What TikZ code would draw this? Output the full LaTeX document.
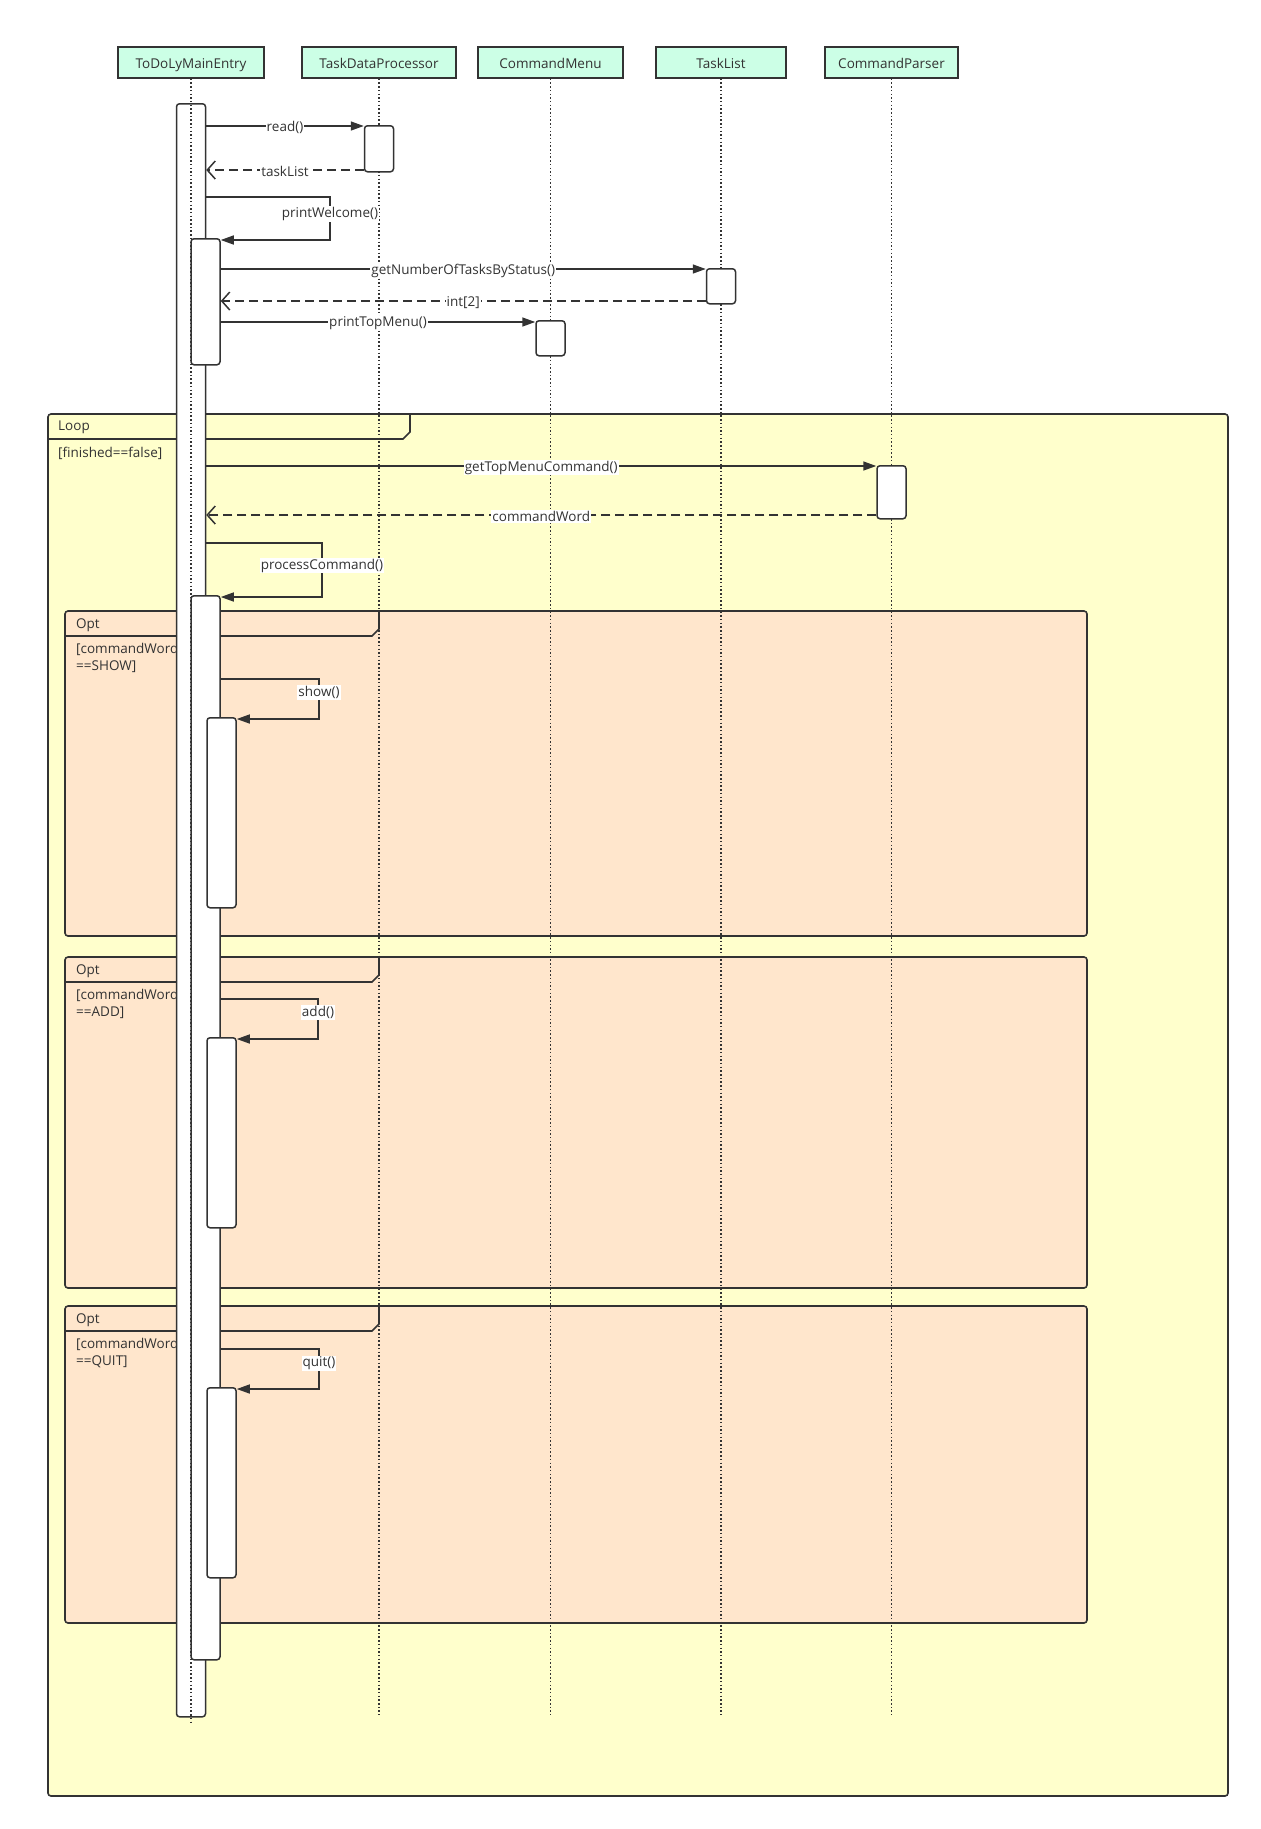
\documentclass[tikz,border=0pt]{standalone}
\usepackage{fontspec}
\setmainfont{Open Sans}
\usetikzlibrary{arrows.meta}
\definecolor{ink}{HTML}{333333}
\definecolor{headMint}{HTML}{CCFFE6}
\definecolor{loopFill}{HTML}{FFFFCC}
\definecolor{optFill}{HTML}{FFE6CC}
\tikzset{
  head box/.style={
    draw=ink,
    fill=headMint,
    line width=1.5pt,
    minimum height=31pt,
    inner sep=0pt,
    text height=12pt,
    text depth=0pt,
    font=\fontsize{13.5}{15}\selectfont,
    text=ink
  },
  life line/.style={
    draw=ink,
    line width=1.5pt,
    dash pattern=on 1.5pt off 2.2pt
  },
  act bar/.style={
    draw=ink,
    fill=white,
    line width=1.5pt,
    rounded corners=3pt,
    minimum width=29pt,
    inner sep=0pt,
    anchor=north
  },
  loop frame/.style={
    draw=ink,
    fill=loopFill,
    line width=1.6pt,
    rounded corners=3pt
  },
  opt frame/.style={
    draw=ink,
    fill=optFill,
    line width=1.6pt,
    rounded corners=3pt
  },
  tab edge/.style={
    draw=ink,
    line width=1.6pt
  },
  tab label/.style={
    anchor=west,
    yshift=-1.5pt,
    font=\fontsize{13.5}{15}\selectfont,
    text=ink,
    inner sep=0pt
  },
  guard label/.style={
    anchor=north west,
    yshift=-1.5pt,
    align=left,
    font=\fontsize{13.5}{17}\selectfont,
    text=ink,
    inner sep=0pt
  },
  call edge/.style={
    -{Triangle[length=13pt,width=9pt]},
    draw=ink,
    line width=1.5pt
  },
  reply edge/.style={
    -{Straight Barb[length=8pt,width=18pt]},
    draw=ink,
    line width=1.5pt,
    dash pattern=on 9pt off 5pt
  },
  msg label/.style={
    fill=white,
    inner sep=1pt,
    yshift=-1.5pt,
    font=\fontsize{13.5}{15}\selectfont,
    text=ink
  }
}

\begin{document}
\begin{tikzpicture}[x=1pt,y=-1pt]
  \path[use as bounding box,fill=white] (0,0) rectangle (1261,1829);

  \node[head box,minimum width=146pt] (entry) at (191,62.5) {ToDoLyMainEntry};
  \node[head box,minimum width=154pt] (proc) at (379,62.5) {TaskDataProcessor};
  \node[head box,minimum width=145pt] (menu) at (550.5,62.5) {CommandMenu};
  \node[head box,minimum width=130pt] (tlist) at (721,62.5) {TaskList};
  \node[head box,minimum width=133pt] (parser) at (891.5,62.5) {CommandParser};

  \draw[loop frame] (48,414) rectangle (1228,1796);
  \draw[tab edge] (48,439) -- (403,439) -- (410,432) -- (410,414);
  \node[tab label] (loopTag) at (58,426) {Loop};
  \node[tab label] (loopGuard) at (58,452) {[finished==false]};

  \foreach \top/\bot/\cond [count=\i] in {611/936/SHOW,957/1288/ADD,1306/1623/QUIT} {
    \draw[opt frame] (65,\top) rectangle (1087,\bot);
    \draw[tab edge] (65,\top+25) -- (372,\top+25) -- (379,\top+18) -- (379,\top);
    \node[tab label] (optTag\i) at (76,\top+12.5) {Opt};
    \node[guard label] (optGuard\i) at (76,\top+31) {[commandWord\\==\cond]};
  }

  \node[act bar,minimum height=1613pt] (main) at (191,103) {};

  \coordinate (entryEnd) at (191,1724);
  \coordinate (procEnd) at (379,1715);
  \coordinate (menuEnd) at (550.5,1715);
  \coordinate (tlistEnd) at (721,1715);
  \coordinate (parserEnd) at (891.5,1715);
  \foreach \n in {entry,proc,menu,tlist,parser}
    \draw[life line] (\n.south) -- (\n End);

  \node[act bar,minimum height=46pt] (readAct) at (379,125) {};
  \node[act bar,minimum height=126pt] (screenAct) at (205.5,238) {};
  \node[act bar,minimum height=35pt] (countAct) at (721,268) {};
  \node[act bar,minimum height=35pt] (menuAct) at (550.5,320) {};
  \node[act bar,minimum height=53pt] (parseAct) at (891.5,465) {};
  \node[act bar,minimum height=1064pt] (runAct) at (205.5,595) {};
  \node[act bar,minimum height=190pt] (showAct) at (221.5,717) {};
  \node[act bar,minimum height=190pt] (addAct) at (221.5,1037) {};
  \node[act bar,minimum height=190pt] (quitAct) at (221.5,1387) {};

  \coordinate (rowRead) at (0,126);
  \coordinate (rowList) at (0,170);
  \coordinate (kWelcome) at (330,197);
  \coordinate (rowCount) at (0,269);
  \coordinate (rowPair) at (0,301);
  \coordinate (rowMenu) at (0,322);
  \coordinate (rowCommand) at (0,466);
  \coordinate (rowWord) at (0,515);
  \coordinate (kProcess) at (322,543);
  \coordinate (kShow) at (319,679);
  \coordinate (kAdd) at (318,999);
  \coordinate (kQuit) at (319,1349);

  \draw[call edge] (main.east |- rowRead) -- (readAct.west |- rowRead)
    node[msg label,midway] (readLbl) {read()};
  \draw[reply edge] (readAct.west |- rowList) -- (main.east |- rowList)
    node[msg label,midway] (listLbl) {taskList};
  \draw[call edge] (main.east |- kWelcome) -- (kWelcome) |- ([yshift=-2pt]screenAct.north east)
    node[msg label,pos=0.18] (welcomeLbl) {printWelcome()};
  \draw[call edge] (screenAct.east |- rowCount) -- (countAct.west |- rowCount)
    node[msg label,midway] (countLbl) {getNumberOfTasksByStatus()};
  \draw[reply edge] (countAct.west |- rowPair) -- (screenAct.east |- rowPair)
    node[msg label,midway] (pairLbl) {int[2]};
  \draw[call edge] (screenAct.east |- rowMenu) -- (menuAct.west |- rowMenu)
    node[msg label,midway] (menuLbl) {printTopMenu()};
  \draw[call edge] (main.east |- rowCommand) -- (parseAct.west |- rowCommand)
    node[msg label,midway] (commandLbl) {getTopMenuCommand()};
  \draw[reply edge] (parseAct.west |- rowWord) -- (main.east |- rowWord)
    node[msg label,midway] (wordLbl) {commandWord};
  \draw[call edge] (main.east |- kProcess) -- (kProcess) |- ([yshift=-2pt]runAct.north east)
    node[msg label,pos=0.195] (processLbl) {processCommand()};
  \draw[call edge] (runAct.east |- kShow) -- (kShow) |- ([yshift=-2pt]showAct.north east)
    node[msg label,pos=0.15] (showLbl) {show()};
  \draw[call edge] (runAct.east |- kAdd) -- (kAdd) |- ([yshift=-2pt]addAct.north east)
    node[msg label,pos=0.15] (addLbl) {add()};
  \draw[call edge] (runAct.east |- kQuit) -- (kQuit) |- ([yshift=-2pt]quitAct.north east)
    node[msg label,pos=0.16] (quitLbl) {quit()};
\end{tikzpicture}
\end{document}
